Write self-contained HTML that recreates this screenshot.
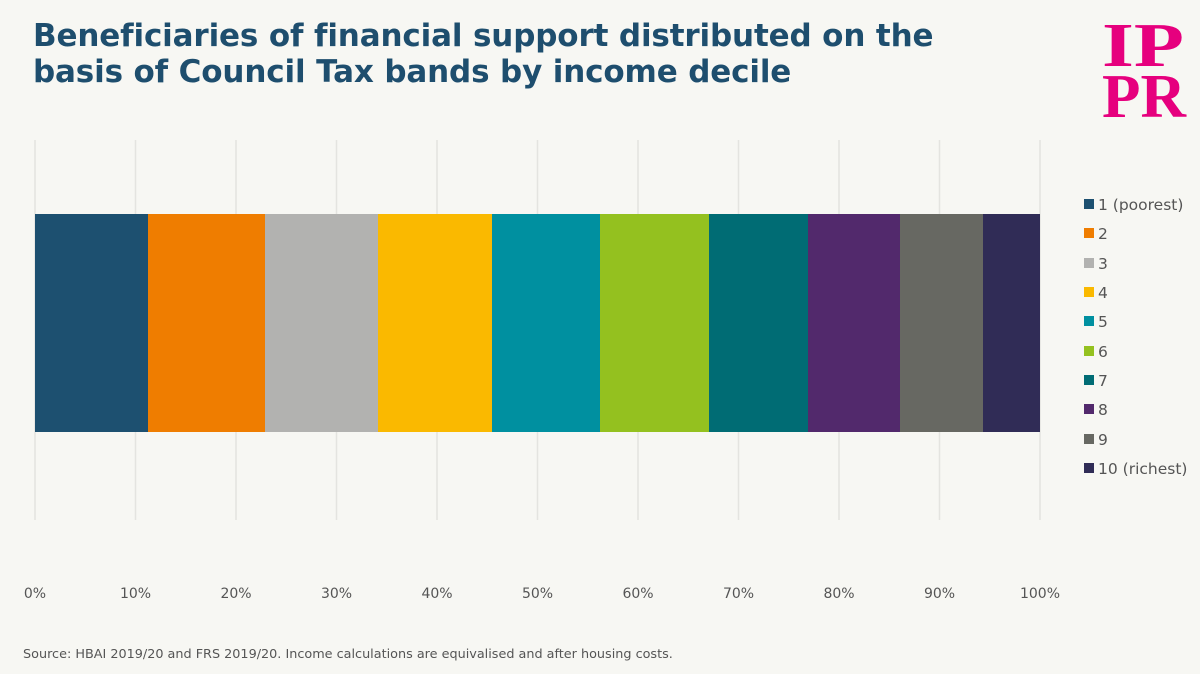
<!DOCTYPE html>
<html><head><meta charset="utf-8"><style>
body{margin:0;width:1200px;height:674px;background:#f7f7f3;font-family:"DejaVu Sans","Liberation Sans",sans-serif;position:relative;overflow:hidden}
h1{position:absolute;left:33px;top:18px;margin:0;font-size:31px;line-height:36px;color:#1e4e6e;font-weight:bold;font-family:"DejaVu Sans","Liberation Sans",sans-serif;letter-spacing:-0.15px}
.src{position:absolute;left:23px;top:647px;font-size:12.8px;color:#555}
</style></head><body>
<h1>Beneficiaries of financial support distributed on the<br>basis of Council Tax bands by income decile</h1>
<svg width="1200" height="674" style="position:absolute;left:0;top:0">
<g stroke="#e4e4e0" stroke-width="1.5">
<line x1="35" y1="140" x2="35" y2="520"/><line x1="135.5" y1="140" x2="135.5" y2="520"/><line x1="236" y1="140" x2="236" y2="520"/><line x1="336.5" y1="140" x2="336.5" y2="520"/><line x1="437" y1="140" x2="437" y2="520"/><line x1="537.5" y1="140" x2="537.5" y2="520"/><line x1="638" y1="140" x2="638" y2="520"/><line x1="738.5" y1="140" x2="738.5" y2="520"/><line x1="839" y1="140" x2="839" y2="520"/><line x1="939.5" y1="140" x2="939.5" y2="520"/><line x1="1040" y1="140" x2="1040" y2="520"/>
</g>
<rect x="35" y="214" width="113" height="218" fill="#1d5070"/>
<rect x="148" y="214" width="117" height="218" fill="#ef7d00"/>
<rect x="265" y="214" width="113" height="218" fill="#b2b2b0"/>
<rect x="378" y="214" width="114" height="218" fill="#fab900"/>
<rect x="492" y="214" width="108" height="218" fill="#0090a0"/>
<rect x="600" y="214" width="109" height="218" fill="#94c11f"/>
<rect x="709" y="214" width="99" height="218" fill="#006c74"/>
<rect x="808" y="214" width="92" height="218" fill="#52296c"/>
<rect x="900" y="214" width="83" height="218" fill="#676862"/>
<rect x="983" y="214" width="57" height="218" fill="#302c56"/>
<g font-size="14" fill="#555" text-anchor="middle" font-family="DejaVu Sans,Liberation Sans,sans-serif">
<text x="35" y="598">0%</text><text x="135.5" y="598">10%</text><text x="236" y="598">20%</text><text x="336.5" y="598">30%</text><text x="437" y="598">40%</text><text x="537.5" y="598">50%</text><text x="638" y="598">60%</text><text x="738.5" y="598">70%</text><text x="839" y="598">80%</text><text x="939.5" y="598">90%</text><text x="1040" y="598">100%</text>
</g>
<g font-size="15.5" fill="#555" font-family="DejaVu Sans,Liberation Sans,sans-serif">
<rect x="1084" y="199" width="10" height="10" fill="#1d5070"/><text x="1098" y="210">1 (poorest)</text>
<rect x="1084" y="228" width="10" height="10" fill="#ef7d00"/><text x="1098" y="239">2</text>
<rect x="1084" y="258" width="10" height="10" fill="#b2b2b0"/><text x="1098" y="269">3</text>
<rect x="1084" y="287" width="10" height="10" fill="#fab900"/><text x="1098" y="298">4</text>
<rect x="1084" y="316" width="10" height="10" fill="#0090a0"/><text x="1098" y="327">5</text>
<rect x="1084" y="346" width="10" height="10" fill="#94c11f"/><text x="1098" y="357">6</text>
<rect x="1084" y="375" width="10" height="10" fill="#006c74"/><text x="1098" y="386">7</text>
<rect x="1084" y="404" width="10" height="10" fill="#52296c"/><text x="1098" y="415">8</text>
<rect x="1084" y="434" width="10" height="10" fill="#676862"/><text x="1098" y="445">9</text>
<rect x="1084" y="463" width="10" height="10" fill="#302c56"/><text x="1098" y="474">10 (richest)</text>
</g>
<g fill="#e6007e" font-family="Liberation Serif,serif" font-weight="bold" font-size="62">
<text x="1102" y="66" textLength="82" lengthAdjust="spacingAndGlyphs">IP</text><text x="1102" y="117" textLength="84" lengthAdjust="spacingAndGlyphs">PR</text>
</g>
</svg>
<div class="src">Source: HBAI 2019/20 and FRS 2019/20. Income calculations are equivalised and after housing costs.</div>
</body></html>
